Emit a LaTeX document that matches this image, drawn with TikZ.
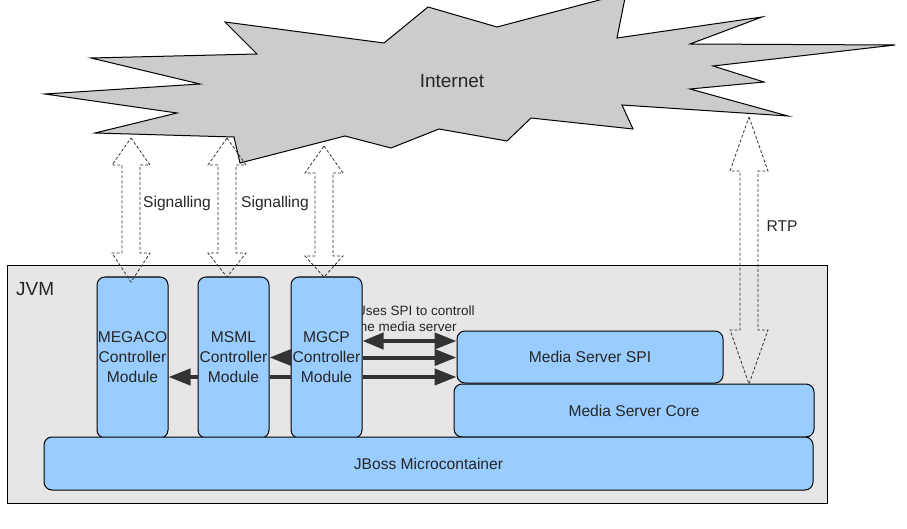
\documentclass[tikz,border=0pt]{standalone}
\usepackage{fontspec}
\setmainfont{Liberation Sans}
\usetikzlibrary{arrows.meta}
\definecolor{Cloud}{RGB}{204, 204, 204}
\definecolor{Jvm}{RGB}{230, 230, 230}
\definecolor{Module}{RGB}{153, 204, 255}
\definecolor{Link}{RGB}{51, 51, 51}

\tikzset{
    module/.style={draw, fill=Module, rounded corners=8pt, line width=1pt,
        inner sep=0pt, align=center, text=black!85,
        font=\fontsize{15.6}{20}\selectfont},
    label/.style={text=black!85, inner sep=0pt, font=\fontsize{15.6}{20}\selectfont},
    biglabel/.style={text=black!85, inner sep=0pt, font=\fontsize{19}{23}\selectfont},
    bus/.style={-{Triangle[length=22pt, width=16pt]}, line width=4pt, Link},
    twobus/.style={{Triangle[length=21pt, width=16pt]}-{Triangle[length=22pt, width=16pt]}, line width=4pt, Link},
    flow/.style={draw=black!80, line width=0.8pt, dash pattern=on 3pt off 2pt},
}

\begin{document}
\begin{tikzpicture}[x=1pt, y=-1pt]
    %% Background
    \useasboundingbox (0,0) rectangle (907,529);

    %% Internet
    \draw[fill=Cloud, line width=1pt]
    (225,22) -- (384,43) -- (428,7) -- (497,27) -- (626,-7) -- (617,38)
    -- (762,17) -- (690,44) -- (895,45) -- (713,66) -- (764,82) -- (690,89)
    -- (788,116) -- (622,105) -- (633,129) -- (531,118) -- (507,141)
    -- (439,129) -- (391,148) -- (345,136) -- (240,163) -- (234,137)
    -- (95,133) -- (177,113) -- (45,94) -- (200,84) -- (91,58) -- (257,54)
    -- cycle;
    \node[biglabel] (internet) at (452,81) {Internet};

    %% JVM
    \draw[fill=Jvm, line width=1pt] (7,266) rectangle (827,503);
    \node[biglabel, anchor=west] (jvm) at (16,289) {JVM};

    \node[anchor=west, align=left, inner sep=0pt, text=black!85,
        font=\fontsize{13.5}{16}\selectfont] (note) at (356,319)
        {Uses SPI to controll\\the media server};

    %% Modules
    \node[module, minimum width=71pt, minimum height=161pt] (megaco) at (132.5,357.5)
        {MEGACO\\Controller\\Module};
    \node[module, minimum width=71pt, minimum height=161pt] (msml) at (233.5,357.5)
        {MSML\\Controller\\Module};
    \node[module, minimum width=71pt, minimum height=161pt] (mgcp) at (326.5,357.5)
        {MGCP\\Controller\\Module};
    \node[module, minimum width=266pt, minimum height=52pt] (spi) at (590,357)
        {Media Server SPI};
    \node[module, minimum width=360pt, minimum height=53pt] (core) at (634,410.5)
        {Media Server Core};
    \node[module, minimum width=769pt, minimum height=53pt] (jboss) at (428.5,463.5)
        {JBoss Microcontainer};

    %% Calls
    \draw[bus] ([yshift=-19.5pt]msml.west) -- ([yshift=-19.5pt]megaco.east);
    \draw[bus] (mgcp.west) -- (msml.east);
    \draw[line width=4pt, Link] ([yshift=-19.5pt]msml.east) -- ([yshift=-19.5pt]mgcp.west);
    \draw[twobus] ([yshift=16.5pt]mgcp.east) -- ([yshift=16.5pt]mgcp.east -| spi.west);
    \draw[bus] (mgcp.east) -- (mgcp.east -| spi.west);
    \draw[bus] ([yshift=-19.5pt]mgcp.east) -- ([yshift=-19.5pt]mgcp.east -| spi.west);

    %% Signalling and RTP
    \foreach \c/\t/\tb/\bb/\b in {131/138/165/253/282, 227/138/165/253/277,
        324/146/173/256/277, 749/117/171/330/384}
    {
        \draw[flow]
        (\c,\t) -- (\c+19,\tb) -- (\c+9,\tb) -- (\c+9,\bb) -- (\c+19,\bb)
        -- (\c,\b) -- (\c-19,\bb) -- (\c-9,\bb) -- (\c-9,\tb) -- (\c-19,\tb)
        -- cycle;
    }
    \node[label] (sig1) at (177,203) {Signalling};
    \node[label] (sig2) at (275,203) {Signalling};
    \node[label] (rtp) at (782,226) {RTP};
\end{tikzpicture}
\end{document}
